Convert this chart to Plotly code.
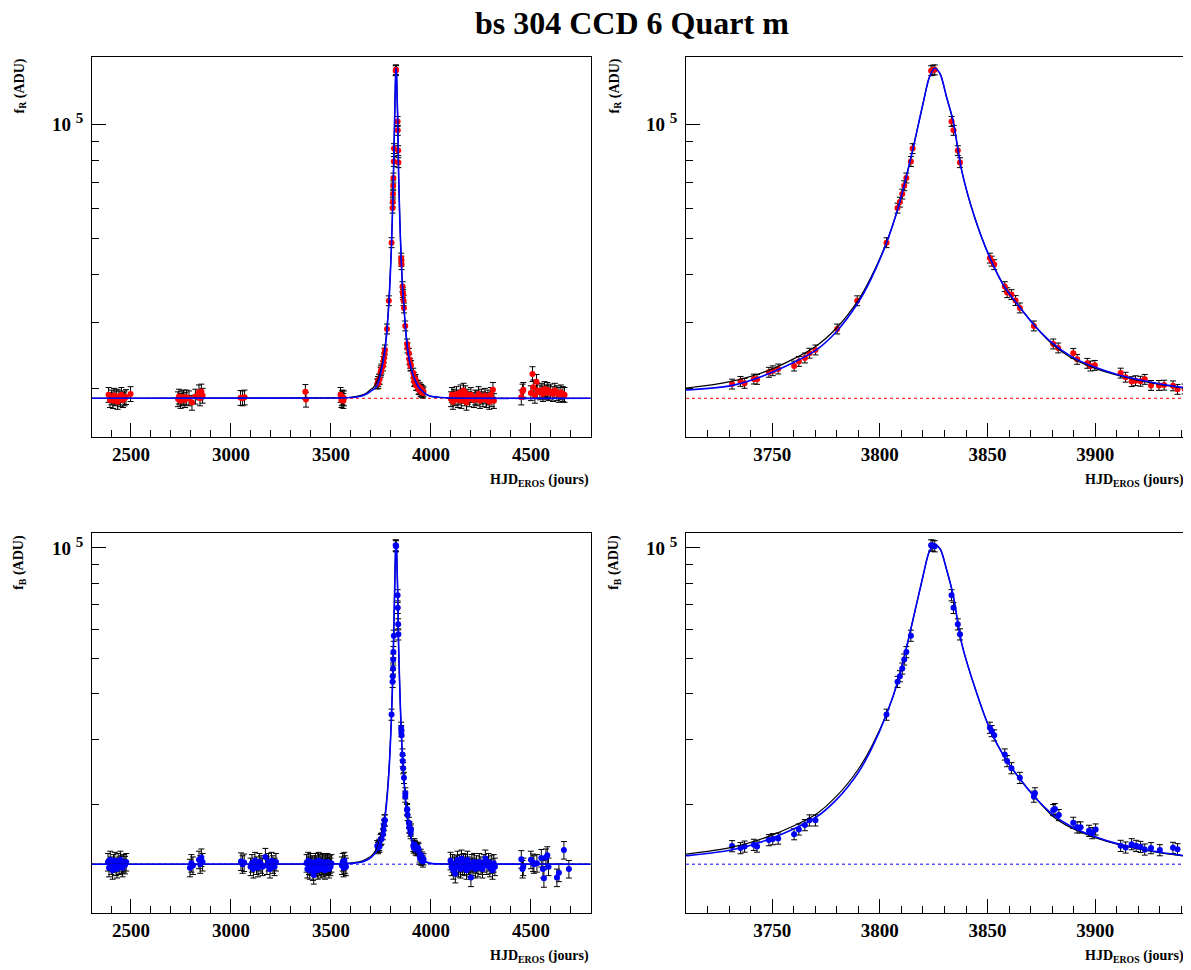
import plotly.graph_objects as go

# ---- light curve data ----
# red filter (R), baseline epochs
red_base_t = [2388, 2395, 2402, 2410, 2415, 2420, 2428, 2433, 2440, 2447, 2452, 2460, 2468, 2475, 2498,
              2735, 2740, 2748, 2755, 2762, 2770, 2778, 2790, 2805, 2822, 2840, 2845, 2852, 2858,
              3048, 3058, 3068, 3372, 3375,
              3548, 3552, 3555, 3558, 3562, 3565,
              4100, 4105, 4110, 4115, 4120, 4128, 4135, 4140, 4148, 4152, 4158, 4163, 4168, 4172, 4178,
              4185, 4192, 4200, 4215, 4222, 4230, 4238, 4245, 4252, 4260, 4270, 4278, 4285, 4292, 4300,
              4305, 4310, 4315,
              4452, 4458, 4462, 4500, 4508, 4512, 4520, 4528, 4532, 4545, 4555, 4560, 4568, 4575, 4582,
              4590, 4598, 4610, 4620, 4630, 4640, 4650, 4660, 4668]
red_base_f = [19300, 18700, 19000, 18600, 19200, 18900, 19100, 18500, 19000, 18800, 19300, 18700, 18900, 19050, 19400,
              18800, 19100, 18600, 18900, 19000, 18700, 19000, 18900, 18400, 19100, 19600, 18900, 19700, 19200,
              18950, 18900, 19000, 19650, 18750,
              19300, 18700, 18900, 19000, 18600, 18900,
              18800, 19300, 18500, 19100, 18900, 19400, 18700, 19000, 19600, 18600, 19200, 19800, 18900, 19500, 18400,
              19100, 18800, 19300, 18700, 19000, 18900, 19400, 18600, 19100, 18800, 19200, 18700, 19000, 18500, 19300,
              18800, 19900, 18600,
              19000, 19700, 19900, 19500, 21900, 20200, 19200, 20900, 19800, 19600, 19800, 19400, 20000, 19600, 19900,
              19500, 19700, 19400, 19800, 19500, 19300, 19600, 19400, 19300]

# red filter (R), epochs during the event
red_event_t = [3731.4, 3735.3, 3737.2, 3741.5, 3743.0, 3748.5, 3750.3, 3752.8, 3760.2, 3762.4, 3765.2, 3767.3,
               3770.1, 3780.2, 3789.5, 3803.1, 3808.2, 3809.3, 3810.4, 3811.3, 3812.3, 3814.4, 3815.2,
               3823.8, 3824.6, 3825.5, 3833.3, 3834.2, 3836.2, 3837.2, 3851.1, 3851.9, 3853.1, 3858.0,
               3859.1, 3861.1, 3863.0, 3865.0, 3871.5, 3880.5, 3882.8, 3889.8, 3891.6, 3896.3, 3897.8,
               3899.8, 3911.8, 3914.1, 3916.9, 3918.7, 3921.0, 3923.0, 3925.9, 3929.6, 3932.0, 3936.1,
               3938.2, 3941.5, 3944, 3946, 3949, 3951, 3954, 3957, 3960, 3963]
red_event_f = [20600, 20940, 20700, 21240, 21200, 22130, 22340, 22580, 22990, 23640, 24140, 24850,
               25350, 28790, 34180, 48640, 60000, 62230, 65340, 68740, 72060, 79650, 86130,
               138300, 138800, 139000, 101600, 96230, 85100, 79100, 44290, 43480, 42560, 37240,
               35900, 35480, 34230, 32720, 29330, 26290, 25660, 24830, 23940, 23370, 22990,
               23080, 22020, 21480, 20910, 21030, 20960, 21200, 20430, 20430, 20470, 20380,
               19950, 20000, 19900, 20150, 19700, 19950, 19600, 19800, 19500, 19650]

# blue filter (B), baseline epochs
blue_base_t = [2385, 2390, 2396, 2402, 2408, 2413, 2419, 2425, 2430, 2436, 2441, 2447, 2452, 2458, 2464, 2470, 2476,
               2795, 2802, 2810, 2840, 2846, 2852, 2858,
               3050, 3058, 3066, 3098, 3105, 3112, 3120, 3128, 3135, 3142, 3150, 3158, 3172, 3180, 3188,
               3195, 3203, 3210, 3218, 3225,
               3378, 3382, 3386, 3390, 3394, 3398, 3402, 3406, 3410, 3414, 3418, 3422, 3426, 3430, 3434,
               3438, 3442, 3446, 3450, 3454, 3458, 3462, 3466, 3470, 3474, 3478, 3482, 3486, 3490, 3494,
               3498, 3502, 3555, 3559, 3563, 3567, 3571, 3575,
               4098, 4103, 4108, 4112, 4118, 4122, 4128, 4133, 4138, 4143, 4148, 4153, 4158, 4163, 4168,
               4173, 4178, 4183, 4188, 4194, 4200, 4205, 4210, 4216, 4222, 4228, 4235, 4242, 4250, 4258,
               4265, 4272, 4280, 4288, 4295, 4302, 4308, 4314, 4320,
               4452, 4458, 4462, 4500, 4510, 4515, 4530, 4552, 4560, 4565, 4575, 4582, 4588, 4630, 4640,
               4665, 4690]
blue_base_f = [13900, 13400, 14100, 13600, 13200, 13800, 14000, 13500, 13300, 13900, 13600, 14100, 13700, 13400, 13800, 13650, 13900,
               13400, 13800, 13600, 14100, 13700, 14300, 13900,
               13950, 13700, 13850, 13500, 13800, 13300, 14000, 13600, 13400, 13900, 13700, 13500, 14350, 13600, 13900,
               13300, 14000, 13700, 13500, 13900,
               13800, 13300, 14000, 13600, 13200, 13900, 13500, 13700, 13100, 12800, 13600, 13900, 13400, 13700, 13200,
               14000, 13500, 13800, 13300, 13600, 13900, 13400, 13700, 13200, 13800, 13500, 13900, 13600, 13300, 13700,
               13500, 13800, 13600, 13900, 13400, 14000, 13700, 13500,
               14000, 13500, 13800, 13200, 13600, 12900, 13700, 14100, 13400, 13800, 13300, 14200, 13600, 13900, 13500,
               13800, 13200, 14100, 13600, 13400, 12600, 13800, 13500, 13900, 13300, 13700, 13400, 13900, 13600, 13300,
               13800, 14200, 13600, 13900, 13400, 13700, 13200, 13800, 13500,
               14150, 13300, 13500, 14100, 13850, 13700, 13800, 14250, 13300, 12550, 14300, 14500, 13500, 12600, 13000,
               14980, 13300]

# blue filter (B), epochs during the event
blue_event_t = [3731.4, 3735.3, 3737.2, 3741.5, 3743.0, 3748.5, 3750.3, 3752.8, 3760.2, 3762.4, 3765.2, 3767.3,
                3770.1, 3803.1, 3808.2, 3809.3, 3810.4, 3811.3, 3812.3, 3814.4, 3823.8, 3824.6, 3825.5,
                3833.3, 3834.2, 3836.2, 3837.2, 3851.1, 3851.9, 3853.1, 3858.0, 3859.1, 3861.1, 3865.0,
                3871.5, 3872.0, 3880.5, 3881.3, 3883.1, 3889.8, 3891.6, 3893.2, 3897.1, 3898.6, 3900.2,
                3911.8, 3914.1, 3916.9, 3919.0, 3921.0, 3923.0, 3925.9, 3930.0, 3936.1, 3938.2,
                3944, 3946, 3949, 3952, 3956, 3960, 3963]
blue_event_f = [15360, 15170, 15320, 15490, 15320, 15950, 16050, 16110, 16560, 17060, 17530, 18060,
                18060, 35090, 43120, 44690, 46900, 49640, 52000, 57640, 101700, 101500, 101100,
                74330, 68640, 61910, 58130, 32330, 31660, 30810, 27330, 26210, 25070, 23590,
                20970, 21410, 19270, 19400, 18680, 17790, 17280, 17280, 16920, 16670, 17060,
                15390, 15230, 15550, 15390, 15290, 15040, 15170, 14980, 15200, 15070,
                14400, 14200, 14550, 14100, 14300, 13950, 14150]

# fitted light curves
model_t = [2300, 3500, 3600, 3650, 3680, 3700, 3710, 3731, 3750, 3770, 3780, 3790, 3796, 3803, 3809,
           3815, 3820, 3823, 3825.5, 3828, 3831, 3834, 3838, 3844, 3851, 3858, 3865, 3872, 3880, 3889,
           3900, 3911, 3926, 3942, 3950, 3980, 4000, 4050, 4100, 4800]
model_R_blue = [18890, 18920, 18980, 19130, 19410, 19750, 19870, 20400, 22120, 25230, 28400, 33850, 39100, 48400, 61500,
                84190, 112900, 132800, 140300, 135500, 117600, 102000, 75320, 56730, 44480, 37070, 32830, 29310, 26440, 24330,
                22800, 21760, 20820, 20110, 19900, 19300, 19130, 18980, 18920, 18890]
model_R_black = [18890, 18930, 19010, 19220, 19550, 19950, 20110, 20940, 22580, 25850, 29000, 34300, 39500, 48600, 61500,
                 84190, 112900, 132800, 140300, 135500, 117600, 102000, 75320, 56730, 44480, 37070, 32830, 29310, 26270, 24130,
                 22660, 21680, 20730, 20070, 19880, 19290, 19120, 18980, 18920, 18890]
model_B_blue = [13710, 13730, 13780, 13880, 14080, 14300, 14450, 14980, 16150, 18350, 20600, 24400, 28200, 35000, 44500,
                62300, 83610, 97920, 101900, 99400, 87230, 74490, 54920, 41780, 32130, 26760, 23440, 20870, 18790, 17350,
                16290, 15550, 14910, 14450, 14300, 13880, 13780, 13730, 13720, 13710]
model_B_black = [13710, 13740, 13810, 13950, 14200, 14420, 14600, 15230, 16460, 18700, 21050, 24900, 28600, 35100, 44500,
                 62300, 83610, 97920, 101900, 99400, 87230, 74490, 54920, 41780, 32130, 26760, 23440, 20870, 18590, 17200,
                 16190, 15490, 14850, 14420, 14280, 13870, 13770, 13730, 13720, 13710]

base_R = 18890
base_B = 13710

# the page body has an 8px margin: work in window pixels and shift
OFF = 8
W, H = 1191 - OFF, 970 - OFF
FONT = "Liberation Serif"


def fx(p):
    return (p - OFF) / W


def fy(p):
    return 1 - (p - OFF) / H


fig = go.Figure()

panels = [
    ("", [2305, 4798], "red", red_base_t, red_base_f, red_event_t, red_event_f,
     model_R_blue, model_R_black, base_R),
    ("2", [3710, 3942], "red", red_base_t, red_base_f, red_event_t, red_event_f,
     model_R_blue, model_R_black, base_R),
    ("3", [2305, 4798], "blue", blue_base_t, blue_base_f, blue_event_t, blue_event_f,
     model_B_blue, model_B_black, base_B),
    ("4", [3710, 3942], "blue", blue_base_t, blue_base_f, blue_event_t, blue_event_f,
     model_B_blue, model_B_black, base_B),
]

for sfx, xr, col, bt, bf, et, ef, mblue, mblack, base in panels:
    xa, ya = "x" + sfx, "y" + sfx
    # baseline of the fit
    fig.add_trace(go.Scatter(x=[xr[0], xr[1]], y=[base, base], mode="lines",
                             line=dict(color=col, width=1, dash="dot"),
                             xaxis=xa, yaxis=ya, showlegend=False))
    # data
    errb = 4.5 if col == "red" else 5.5
    erre = 3.0 if col == "red" else 3.5
    fig.add_trace(go.Scatter(x=bt, y=bf, mode="markers",
                             marker=dict(color=col, size=6),
                             error_y=dict(type="percent", value=errb, color="black",
                                          thickness=1, width=3),
                             xaxis=xa, yaxis=ya, showlegend=False))
    fig.add_trace(go.Scatter(x=et, y=ef, mode="markers",
                             marker=dict(color=col, size=6),
                             error_y=dict(type="percent", value=erre, color="black",
                                          thickness=1, width=3),
                             xaxis=xa, yaxis=ya, showlegend=False))
    # fitted curves
    fig.add_trace(go.Scatter(x=model_t, y=mblack, mode="lines",
                             line=dict(color="black", width=1.2, shape="spline", smoothing=0.8),
                             xaxis=xa, yaxis=ya, showlegend=False))
    fig.add_trace(go.Scatter(x=model_t, y=mblue, mode="lines",
                             line=dict(color="blue", width=1.6, shape="spline", smoothing=0.8),
                             xaxis=xa, yaxis=ya, showlegend=False))

xdom_l = [fx(92), fx(590.5)]
xdom_r = [fx(686), fx(1185.7)]
ydom_t = [fy(437), fy(57)]
ydom_b = [fy(913.3), fy(533.3)]

tickfont = dict(family=FONT, size=19, color="black", weight="bold")


def xaxis(dom, anchor, rng, dtick, minor):
    return dict(domain=dom, anchor=anchor, range=rng, tickmode="linear", tick0=0, dtick=dtick,
                ticks="inside", ticklen=14, tickwidth=1, tickcolor="black",
                minor=dict(ticks="inside", ticklen=7, tickcolor="black", dtick=minor, tick0=0, showgrid=False),
                showline=True, linecolor="black", linewidth=1, mirror=True,
                showgrid=False, zeroline=False, tickfont=tickfont, ticklabelstandoff=0)


def yaxis(dom, anchor, rng):
    return dict(domain=dom, anchor=anchor, type="log", range=rng,
                tickmode="array", tickvals=[1e5],
                ticktext=["10 <sup><span style='font-size:15px'>5</span></sup>"],
                ticks="inside", ticklen=14, tickwidth=1, tickcolor="black",
                minor=dict(ticks="inside", ticklen=7, tickcolor="black", tickmode="array",
                           tickvals=[2e4, 3e4, 4e4, 5e4, 6e4, 7e4, 8e4, 9e4], showgrid=False),
                showline=True, linecolor="black", linewidth=1, mirror=True,
                showgrid=False, zeroline=False, tickfont=tickfont, ticklabelstandoff=4)


fig.update_layout(
    width=W, height=H, margin=dict(l=0, r=0, t=0, b=0),
    paper_bgcolor="white", plot_bgcolor="white",
    xaxis=xaxis(xdom_l, "y", [2305, 4798], 500, 100),
    yaxis=yaxis(ydom_t, "x", [4.1741, 5.1768]),
    xaxis2=xaxis(xdom_r, "y2", [3710, 3942], 50, 10),
    yaxis2=yaxis(ydom_t, "x2", [4.1741, 5.1768]),
    xaxis3=xaxis(xdom_l, "y3", [2305, 4798], 500, 100),
    yaxis3=yaxis(ydom_b, "x3", [4.003, 5.040]),
    xaxis4=xaxis(xdom_r, "y4", [3710, 3942], 50, 10),
    yaxis4=yaxis(ydom_b, "x4", [4.003, 5.040]),
)

labfont = dict(family=FONT, size=14, color="black", weight="bold")
ann = [dict(text="bs 304 CCD 6 Quart m", x=fx(632), y=fy(23), xanchor="center", yanchor="middle",
            font=dict(family=FONT, size=32, color="black", weight="bold"))]
for xr_px, xt_px in [(590.5, 20), (1185.7, 615)]:
    for ytop, ybot, flt in [(57, 480, "R"), (533.3, 956, "B")]:
        ann.append(dict(text="f<sub>%s</sub> (ADU)" % flt, x=fx(xt_px), y=fy(ytop), textangle=-90,
                        xanchor="center", yanchor="top", font=labfont))
        ann.append(dict(text="HJD<sub>EROS</sub> (jours)", x=fx(xr_px), y=fy(ybot),
                        xanchor="right", yanchor="middle", font=labfont))
for a in ann:
    a.update(xref="paper", yref="paper", showarrow=False)
fig.update_layout(annotations=ann)

fig.write_html("out.html")
